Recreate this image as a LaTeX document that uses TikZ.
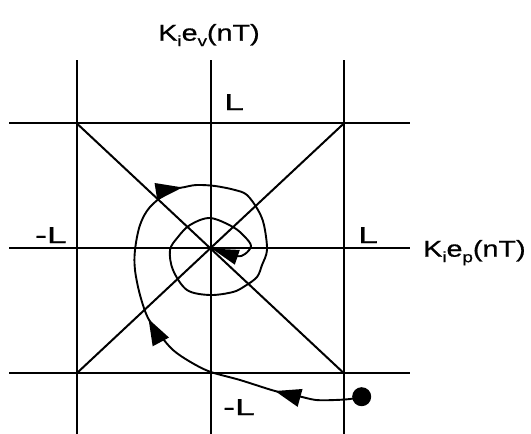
\documentclass[tikz,border=0pt]{standalone}
\usepackage{fontspec}
\setmainfont{Liberation Sans}
\newfontfamily\labfont{Liberation Sans}[FakeBold=0.6]
\usetikzlibrary{arrows.meta,decorations.markings}
\newcommand{\mysub}[1]{\raisebox{-5.5pt}{\fontsize{15}{15}\selectfont #1}}
\begin{document}
\begin{tikzpicture}[x=1pt,y=-1pt,
  gridline/.style={line width=2pt},
  lab/.style={inner sep=0pt, font=\labfont\fontsize{23}{26}\selectfont},
  traj/.style={line width=1.9pt, postaction={decorate}, decoration={markings,
     mark=at position 0.107 with {\arrow{Triangle[length=26pt,width=18pt]}},
     mark=at position 0.29 with {\arrow{Triangle[length=26pt,width=18pt]}},
     mark=at position 0.48 with {\arrow{Triangle[length=27pt,width=17pt]}},
     mark=at position 0.999 with {\arrow{Triangle[length=27pt,width=15pt]}}}}]
\useasboundingbox (0,0) rectangle (531,434);
% grid coordinates
\coordinate (O) at (211,248.3);
\coordinate (TL) at (76.7,123.3);
\coordinate (TR) at (344,123.3);
\coordinate (BL) at (76.7,373.3);
\coordinate (BR) at (344,373.3);
% line ends
\coordinate (v1a) at (76.7,60);  \coordinate (v1b) at (76.7,434);
\coordinate (v0a) at (211,60);   \coordinate (v0b) at (211,434);
\coordinate (v2a) at (344,60);   \coordinate (v2b) at (344,434);
\coordinate (h1a) at (9.4,123.3); \coordinate (h1b) at (410,123.3);
\coordinate (h0a) at (9.4,248.3); \coordinate (h0b) at (410,248.3);
\coordinate (h2a) at (9.4,373.3); \coordinate (h2b) at (410,373.3);
\draw[gridline] (v1a) -- (v1b) (v0a) -- (v0b) (v2a) -- (v2b);
\draw[gridline] (h1a) -- (h1b) (h0a) -- (h0b) (h2a) -- (h2b);
\draw[gridline] (TL) -- (BR) (TR) -- (BL);
% labels
\node[lab, anchor=base] (kv) at (209,40.7) {\scalebox{1.25}[1]{K\mysub{i}e\mysub{v}(nT)}};
\node[lab, anchor=base west] (kp) at (423,256.7) {\scalebox{1.25}[1]{K\mysub{i}e\mysub{p}(nT)}};
\node[lab, anchor=base west] (Ltop) at (224,110) {\scalebox{1.55}[1]{L}};
\node[lab, anchor=base east] (Lleft) at (67,243) {\scalebox{1.55}[1]{-L}};
\node[lab, anchor=base west] (Lright) at (358,243) {\scalebox{1.55}[1]{L}};
\node[lab, anchor=base west] (Lbot) at (223,415) {\scalebox{1.55}[1]{-L}};
% trajectory
\node[circle, fill, inner sep=0pt, minimum size=19pt] (start) at (361.7,396.7) {};
\draw[traj] plot[smooth, tension=0.55] coordinates {
  (start.center) (350,399) (335,400) (316,400) (298,396) (275,391)
  (240,380) (210,371.7) (190,361.7) (173,350) (160,335) (148,318)
  (140,295) (135,270) (135,250) (140,225) (150,207) (170,191) (185,187)
  (197,185) (215,186) (235,190) (247,195) (258,210) (264,225) (267,250)
  (262,265) (257,277) (245,286) (233,292) (210,295) (187,290) (173,270)
  (170,250) (178,237) (190,225) (210,218) (233,227) (245,237) (251,246)
  (245,254) (236,256) (O)};
\end{tikzpicture}
\end{document}
